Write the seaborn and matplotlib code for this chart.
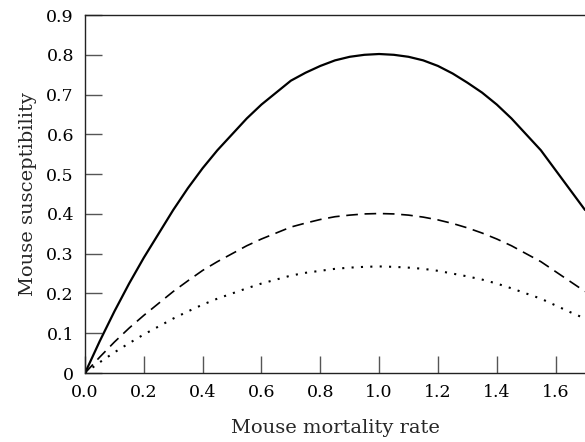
import numpy as np
import pandas as pd
import matplotlib
matplotlib.use("Agg")
import matplotlib.pyplot as plt
import seaborn as sns

mortality = [0.0, 0.05, 0.1, 0.15, 0.2, 0.25, 0.3, 0.35, 0.4, 0.45, 0.5, 0.55,
             0.6, 0.65, 0.7, 0.75, 0.8, 0.85, 0.9, 0.95, 1.0, 1.05, 1.1, 1.15,
             1.2, 1.25, 1.3, 1.35, 1.4, 1.45, 1.5, 1.55, 1.6, 1.65, 1.7]
susc_high = [0.0, 0.08, 0.155, 0.225, 0.29, 0.35, 0.41, 0.465, 0.515, 0.56, 0.60, 0.64,
             0.675, 0.705, 0.735, 0.755, 0.772, 0.786, 0.795, 0.80, 0.802, 0.80, 0.795, 0.786,
             0.772, 0.753, 0.73, 0.705, 0.675, 0.64, 0.60, 0.56, 0.51, 0.46, 0.41]
susc_mid = [0.0, 0.04, 0.078, 0.113, 0.145, 0.175, 0.205, 0.232, 0.258, 0.28, 0.30, 0.32,
            0.337, 0.352, 0.367, 0.377, 0.386, 0.393, 0.397, 0.40, 0.401, 0.40, 0.397, 0.392,
            0.385, 0.376, 0.365, 0.352, 0.337, 0.32, 0.30, 0.28, 0.255, 0.23, 0.205]
susc_low = [0.0, 0.027, 0.052, 0.075, 0.097, 0.117, 0.137, 0.155, 0.172, 0.187, 0.20, 0.213,
            0.225, 0.235, 0.245, 0.252, 0.257, 0.262, 0.265, 0.267, 0.268, 0.267, 0.265, 0.262,
            0.257, 0.25, 0.243, 0.235, 0.225, 0.213, 0.20, 0.187, 0.17, 0.153, 0.137]

x_ticks = [0.0, 0.2, 0.4, 0.6, 0.8, 1.0, 1.2, 1.4, 1.6]
x_tick_labels = ["0.0", "0.2", "0.4", "0.6", "0.8", "1.0", "1.2", "1.4", "1.6"]
y_ticks = [0.0, 0.1, 0.2, 0.3, 0.4, 0.5, 0.6, 0.7, 0.8, 0.9]
y_tick_labels = ["0", "0.1", "0.2", "0.3", "0.4", "0.5", "0.6", "0.7", "0.8", "0.9"]

sns.set_theme(style="ticks")
plt.rcParams["font.family"] = ["DejaVu Serif"]

fig = plt.figure(figsize=(5.85, 4.42), dpi=100)
ax = fig.add_axes([0.1453, 0.156, 0.8547, 0.810])

df = pd.DataFrame({"m": mortality, "high": susc_high, "mid": susc_mid, "low": susc_low})
sns.lineplot(data=df, x="m", y="high", ax=ax, color="black", lw=1.6)
sns.lineplot(data=df, x="m", y="mid", ax=ax, color="black", lw=1.2,
             linestyle=(0, (7, 4)))
sns.lineplot(data=df, x="m", y="low", ax=ax, color="black", lw=1.5,
             linestyle=(0, (1, 3.5)))

ax.set_xlim(0, 1.7)
ax.set_ylim(0, 0.9)
ax.set_xticks(x_ticks)
ax.set_xticklabels(x_tick_labels)
ax.set_yticks(y_ticks)
ax.set_yticklabels(y_tick_labels)
ax.tick_params(direction="in", length=12, width=1.0, color="#555555",
               labelsize=12.5, pad=8, labelcolor="black")
for side in ["left", "bottom", "top"]:
    ax.spines[side].set_color("#222222")
    ax.spines[side].set_linewidth(1.0)
ax.spines["right"].set_visible(False)

ax.set_xlabel("Mouse mortality rate", fontsize=14, labelpad=13)
ax.set_ylabel("Mouse susceptibility", fontsize=14, labelpad=7)

fig.savefig("out.png", dpi=100)
